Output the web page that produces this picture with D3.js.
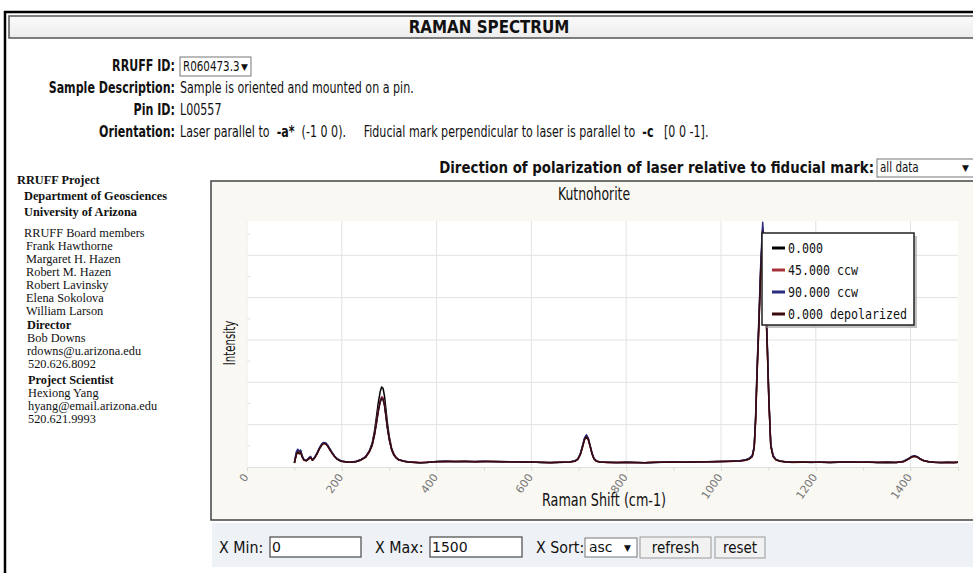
<!DOCTYPE html>
<html lang="en">
<head>
<meta charset="UTF-8">
<title>Raman Spectrum - Kutnohorite</title>
<script src="https://d3js.org/d3.v7.min.js"></script>
<style>
    body { margin: 0; background: #fff; }
    svg { display: block; }
    .hdr { font-family: 'DejaVu Sans', sans-serif; font-size: 15px; fill: #111; white-space: pre; }
    .side { font-family: 'Liberation Serif', serif; font-size: 13px; fill: #111; }
    .chart-txt { font-family: 'DejaVu Sans', sans-serif; fill: #111; }
    .tick-lbl { font-family: 'DejaVu Sans', sans-serif; font-size: 11px; fill: #777; }
    .legend-txt { font-family: 'DejaVu Sans Mono', monospace; font-size: 14px; fill: #111; }
</style>
</head>
<body>
<svg id="page" width="973" height="573"></svg>
<script>
// ---- data ----
const shift = [100, 104, 107, 110, 113, 116, 120, 125, 130, 134, 138, 143, 148, 153, 158, 162, 166, 170, 175, 180,
    185, 190, 195, 200, 210, 220, 230, 240, 250, 258, 264, 269, 273, 277, 281, 284, 287, 290, 293, 296,
    300, 305, 310, 315, 320, 330, 340, 350, 365, 380, 400, 420, 440, 460, 480, 500, 520, 540, 560, 580,
    600, 620, 640, 660, 680, 692, 698, 703, 708, 712, 716, 720, 724, 728, 732, 737, 745, 760, 780, 800,
    820, 840, 860, 880, 900, 920, 940, 960, 980, 1000, 1020, 1040, 1052, 1060, 1066, 1070, 1073, 1076, 1080, 1084,
    1088, 1092, 1095, 1098, 1101, 1105, 1110, 1116, 1124, 1135, 1150, 1170, 1190, 1210, 1230, 1250, 1270, 1290, 1310, 1330,
    1350, 1370, 1385, 1395, 1402, 1408, 1414, 1420, 1428, 1438, 1450, 1465, 1480, 1490, 1500];

const int000 = [95, 310, 400, 330, 390, 260, 170, 150, 200, 240, 160, 230, 330, 450, 540, 575, 560, 510, 420, 330,
    250, 195, 160, 140, 120, 115, 130, 170, 240, 380, 560, 850, 1180, 1520, 1780, 1890, 1860, 1680, 1380, 1060,
    730, 450, 300, 220, 175, 140, 120, 112, 100, 108, 128, 135, 128, 134, 126, 131, 127, 125, 124, 122,
    118, 108, 104, 110, 118, 140, 190, 300, 500, 670, 750, 670, 500, 320, 200, 140, 118, 110, 104, 112,
    106, 100, 108, 115, 118, 112, 120, 122, 126, 130, 135, 145, 165, 200, 260, 470, 1150, 2250, 3450, 4750,
    5650, 4850, 3750, 2750, 1600, 520, 260, 175, 140, 122, 112, 118, 110, 115, 108, 114, 120, 112, 116, 108,
    112, 106, 130, 190, 240, 260, 240, 190, 150, 125, 112, 104, 110, 105, 112];

const int045 = [100, 290, 370, 320, 360, 250, 165, 160, 190, 230, 170, 220, 320, 440, 530, 560, 550, 500, 410, 320,
    245, 190, 155, 135, 125, 110, 128, 165, 230, 360, 520, 780, 1060, 1360, 1580, 1660, 1640, 1500, 1240, 960,
    670, 420, 285, 215, 172, 138, 118, 108, 105, 112, 125, 130, 132, 128, 130, 127, 129, 122, 126, 120,
    115, 112, 100, 114, 115, 138, 185, 290, 480, 650, 730, 650, 485, 310, 195, 138, 120, 106, 108, 110,
    102, 104, 112, 110, 115, 116, 117, 125, 122, 127, 132, 142, 160, 195, 250, 450, 1100, 2180, 3380, 4700,
    5600, 4800, 3700, 2700, 1560, 500, 250, 170, 138, 125, 108, 115, 114, 112, 110, 118, 116, 115, 112, 110,
    109, 110, 125, 180, 230, 250, 232, 185, 148, 128, 108, 108, 106, 110, 108];

const int090 = [110, 360, 420, 380, 400, 280, 180, 150, 210, 250, 165, 240, 340, 460, 550, 580, 570, 520, 430, 335,
    255, 200, 165, 140, 115, 120, 135, 175, 245, 370, 530, 770, 1040, 1330, 1550, 1630, 1600, 1470, 1220, 950,
    660, 415, 280, 212, 170, 142, 125, 115, 98, 105, 130, 138, 126, 130, 128, 133, 124, 127, 121, 125,
    120, 106, 108, 108, 120, 145, 195, 305, 510, 680, 760, 680, 505, 325, 205, 145, 115, 112, 102, 115,
    108, 98, 106, 118, 122, 110, 122, 120, 128, 132, 138, 148, 170, 210, 275, 490, 1200, 2320, 3550, 4880,
    5780, 4950, 3850, 2820, 1650, 540, 270, 180, 145, 120, 115, 120, 108, 118, 105, 112, 122, 110, 118, 106,
    115, 104, 135, 195, 250, 265, 245, 195, 155, 122, 115, 100, 112, 103, 115];

const int000dep = [95, 280, 360, 310, 350, 240, 160, 145, 185, 225, 155, 215, 310, 430, 520, 555, 545, 495, 400, 315,
    240, 185, 150, 130, 120, 112, 125, 160, 225, 350, 505, 750, 1020, 1310, 1530, 1610, 1590, 1450, 1200, 930,
    650, 410, 278, 210, 168, 136, 115, 110, 102, 110, 122, 132, 130, 131, 125, 129, 128, 124, 123, 121,
    116, 110, 102, 112, 116, 136, 180, 285, 470, 640, 720, 645, 480, 305, 190, 135, 117, 108, 106, 109,
    104, 102, 110, 112, 116, 114, 118, 123, 124, 128, 133, 140, 158, 190, 245, 440, 1080, 2150, 3330, 4650,
    5560, 4750, 3650, 2660, 1540, 490, 245, 168, 136, 124, 110, 116, 112, 113, 109, 116, 118, 113, 114, 109,
    111, 108, 128, 185, 235, 255, 236, 188, 146, 126, 110, 106, 108, 107, 110];

const seriesNames = ["0.000", "45.000 ccw", "90.000 ccw", "0.000 depolarized"];
const seriesData = [int000, int045, int090, int000dep];
const seriesColors = ["#000000", "#a8323a", "#2b2b80", "#3a0a0a"];

const xTickValues = [0, 200, 400, 600, 800, 1000, 1200, 1400];
const xMinorValues = [100, 300, 500, 700, 900, 1100, 1300, 1500];
const yGridValues = [1000, 2000, 3000, 4000, 5000];
const yMinorValues = [500, 1500, 2500, 3500, 4500, 5500];

const sidebar = [
    ["RRUFF Project", true], ["Department of Geosciences", true], ["University of Arizona", true],
    ["RRUFF Board members", false], ["Frank Hawthorne", false], ["Margaret H. Hazen", false],
    ["Robert M. Hazen", false], ["Robert Lavinsky", false], ["Elena Sokolova", false], ["William Larson", false],
    ["Director", true], ["Bob Downs", false], ["rdowns@u.arizona.edu", false], ["520.626.8092", false],
    ["Project Scientist", true], ["Hexiong Yang", false], ["hyang@email.arizona.edu", false], ["520.621.9993", false]
];

// ---- page ----
const svg = d3.select("#page");
const SX = 0.74; // the screenshot is squeezed horizontally

function label(g, x, y, str, o = {}) {
    return g.append("text")
        .attr("class", o.cls || "hdr")
        .attr("transform", `translate(${x},${y}) scale(${o.sx ?? SX},1)`)
        .attr("text-anchor", o.anchor || "start")
        .style("font-weight", o.bold ? "bold" : null)
        .style("font-size", o.size ? o.size + "px" : null)
        .text(str);
}

// outer frame
svg.append("line").attr("x1", 5).attr("x2", 5).attr("y1", 11).attr("y2", 573).attr("stroke", "#000").attr("stroke-width", 2.5);
svg.append("line").attr("x1", 4).attr("x2", 973).attr("y1", 12).attr("y2", 12).attr("stroke", "#000").attr("stroke-width", 2.5);

// title bar
const grad = svg.append("defs").append("linearGradient").attr("id", "bar").attr("x1", 0).attr("x2", 0).attr("y1", 0).attr("y2", 1);
grad.append("stop").attr("offset", "0%").attr("stop-color", "#fbfbfb");
grad.append("stop").attr("offset", "100%").attr("stop-color", "#ececec");
svg.append("rect").attr("x", 9).attr("y", 16).attr("width", 980).attr("height", 22)
    .attr("fill", "url(#bar)").attr("stroke", "#555").attr("stroke-width", 1.5);
label(svg, 489, 33, "RAMAN SPECTRUM", { bold: true, anchor: "middle", size: 17, sx: 0.89 });

// info rows
label(svg, 175, 71, "RRUFF ID:", { bold: true, anchor: "end" });
svg.append("rect").attr("x", 180).attr("y", 57).attr("width", 71).attr("height", 19)
    .attr("fill", "#fff").attr("stroke", "#777");
label(svg, 183, 71, "R060473.3", { size: 14 });
label(svg, 241, 70, "▼", { size: 9, sx: 1 });

label(svg, 175, 93, "Sample Description:", { bold: true, anchor: "end" });
label(svg, 180, 93, "Sample is oriented and mounted on a pin.");
label(svg, 175, 115, "Pin ID:", { bold: true, anchor: "end" });
label(svg, 180, 115, "L00557");
label(svg, 175, 137, "Orientation:", { bold: true, anchor: "end" });
const ori = label(svg, 180, 137, "");
ori.append("tspan").text("Laser parallel to  ");
ori.append("tspan").style("font-weight", "bold").text("-a*");
ori.append("tspan").text("  (-1 0 0).     Fiducial mark perpendicular to laser is parallel to  ");
ori.append("tspan").style("font-weight", "bold").text("-c");
ori.append("tspan").text("   [0 0 -1].");

// polarization label: squeeze it so it ends right at the select box
const dir = label(svg, 874, 173, "Direction of polarization of laser relative to fiducial mark:", { bold: true, anchor: "end", sx: 1 });
const dirW = dir.node().getComputedTextLength();
dir.attr("transform", `translate(874,173) scale(${435 / dirW},1)`);
svg.append("rect").attr("x", 877).attr("y", 159).attr("width", 100).attr("height", 18)
    .attr("fill", "#fff").attr("stroke", "#777");
label(svg, 880, 172, "all data", { size: 14 });
label(svg, 962, 171, "▼", { size: 9, sx: 1 });

// sidebar
const sideY = [180, 196, 212, 233, 246, 259, 272, 285, 298, 311, 325, 338, 351, 364, 380, 393, 406, 419];
const sideX = [17, 24, 24, 24, 26, 26, 26, 26, 26, 26, 27, 27, 27, 28, 28, 28, 28, 28];
sidebar.forEach((d, i) => {
    label(svg, sideX[i], sideY[i] + 4, d[0], { cls: "side", bold: d[1], sx: 0.95 });
});

// ---- chart panel ----
svg.append("rect").attr("x", 211).attr("y", 181).attr("width", 780).attr("height", 339)
    .attr("fill", "#f9f8f3").attr("stroke", "#444").attr("stroke-width", 1.5);

const margin = { left: 247, right: 958, top: 221, bottom: 467 };
const x = d3.scaleLinear().domain([0, 1500]).range([margin.left, margin.right]);
const y = d3.scaleLinear().domain([0, 5810]).range([margin.bottom, margin.top]);

const plot = svg.append("g");
plot.append("rect").attr("x", margin.left).attr("y", margin.top)
    .attr("width", margin.right - margin.left).attr("height", margin.bottom - margin.top)
    .attr("fill", "#fff");

// grid
plot.append("g").selectAll("line").data(yGridValues).join("line")
    .attr("x1", margin.left).attr("x2", margin.right)
    .attr("y1", d => y(d)).attr("y2", d => y(d))
    .attr("stroke", "#e2e2e2");
plot.append("g").selectAll("line").data(xTickValues.filter(d => d > 0)).join("line")
    .attr("x1", d => x(d)).attr("x2", d => x(d))
    .attr("y1", margin.top).attr("y2", margin.bottom)
    .attr("stroke", "#e2e2e2");
plot.append("g").selectAll("line").data(yMinorValues).join("line")
    .attr("x1", margin.left).attr("x2", margin.left + 3)
    .attr("y1", d => y(d)).attr("y2", d => y(d))
    .attr("stroke", "#ddd");

// axes
const xAxis = d3.axisBottom(x).tickValues(xTickValues.concat(xMinorValues)).tickSize(4).tickFormat("");
const gx = plot.append("g").attr("transform", `translate(0,${margin.bottom})`).call(xAxis);
gx.select(".domain").attr("stroke", "#e0e0dc");
gx.selectAll(".tick line").attr("stroke", "#ddd");
plot.append("line").attr("x1", margin.left).attr("x2", margin.left)
    .attr("y1", margin.top).attr("y2", margin.bottom).attr("stroke", "#eeeeea");

plot.append("g").selectAll("text").data(xTickValues).join("text")
    .attr("class", "tick-lbl")
    .attr("text-anchor", "end")
    .attr("transform", d => `translate(${x(d) + 2},${margin.bottom + 10}) rotate(-55)`)
    .text(d => d);

// spectra
svg.append("clipPath").attr("id", "clip").append("rect")
    .attr("x", margin.left).attr("y", margin.top - 4)
    .attr("width", margin.right - margin.left).attr("height", margin.bottom - margin.top + 4);
const line = d3.line().x((d, i) => x(shift[i])).y(d => y(d));
plot.append("g").attr("clip-path", "url(#clip)")
    .selectAll("path").data(seriesData).join("path")
    .attr("d", line)
    .attr("fill", "none")
    .attr("stroke", (d, i) => seriesColors[i])
    .attr("stroke-width", 1.5)
    .attr("stroke-linejoin", "round");

// titles
label(svg, 594, 200, "Kutnohorite", { cls: "chart-txt", anchor: "middle", size: 18, sx: 0.69 });
label(svg, 604, 506, "Raman Shift (cm-1)", { cls: "chart-txt", anchor: "middle", size: 18, sx: 0.71 });
svg.append("text").attr("class", "chart-txt")
    .attr("transform", "translate(235,343) rotate(-90) scale(0.68,1)")
    .attr("text-anchor", "middle").style("font-size", "15px").text("Intensity");

// legend
const lg = svg.append("g").attr("transform", "translate(762,233)");
lg.append("rect").attr("x", 3).attr("y", 3).attr("width", 152).attr("height", 92).attr("fill", "#999").attr("opacity", 0.6);
lg.append("rect").attr("width", 152).attr("height", 92).attr("fill", "#fff").attr("stroke", "#222").attr("stroke-width", 1.5);
seriesNames.forEach((name, i) => {
    const yy = 15 + i * 22;
    lg.append("line").attr("x1", 10).attr("x2", 23).attr("y1", yy).attr("y2", yy)
        .attr("stroke", seriesColors[i]).attr("stroke-width", 3);
    lg.append("text").attr("class", "legend-txt")
        .attr("transform", `translate(26,${yy + 5}) scale(0.83,1)`).text(name);
});

// ---- controls ----
svg.append("rect").attr("x", 212).attr("y", 523).attr("width", 780).attr("height", 44).attr("fill", "#eef1f5");
const ctl = { sx: 0.95 };
label(svg, 219, 553, "X Min:", ctl);
svg.append("rect").attr("x", 270).attr("y", 537).attr("width", 91).attr("height", 20).attr("fill", "#fff").attr("stroke", "#555").attr("stroke-width", 1.3);
label(svg, 272, 552, "0", { size: 14, sx: 1 });
label(svg, 375, 553, "X Max:", ctl);
svg.append("rect").attr("x", 430).attr("y", 537).attr("width", 92).attr("height", 20).attr("fill", "#fff").attr("stroke", "#555").attr("stroke-width", 1.3);
label(svg, 432, 552, "1500", { size: 14, sx: 1 });
label(svg, 536, 553, "X Sort:", ctl);
svg.append("rect").attr("x", 585).attr("y", 538).attr("width", 52).attr("height", 19).attr("fill", "#fff").attr("stroke", "#777");
label(svg, 589, 552, "asc", { size: 14, sx: 1 });
label(svg, 624, 551, "▼", { size: 9, sx: 1 });
svg.append("rect").attr("x", 640).attr("y", 537).attr("width", 71).attr("height", 21).attr("fill", "#f2f2f2").attr("stroke", "#999");
label(svg, 675.5, 553, "refresh", { anchor: "middle", sx: 0.9 });
svg.append("rect").attr("x", 715).attr("y", 537).attr("width", 50).attr("height", 21).attr("fill", "#f2f2f2").attr("stroke", "#999");
label(svg, 740, 553, "reset", { anchor: "middle", sx: 0.9 });
</script>
</body>
</html>
